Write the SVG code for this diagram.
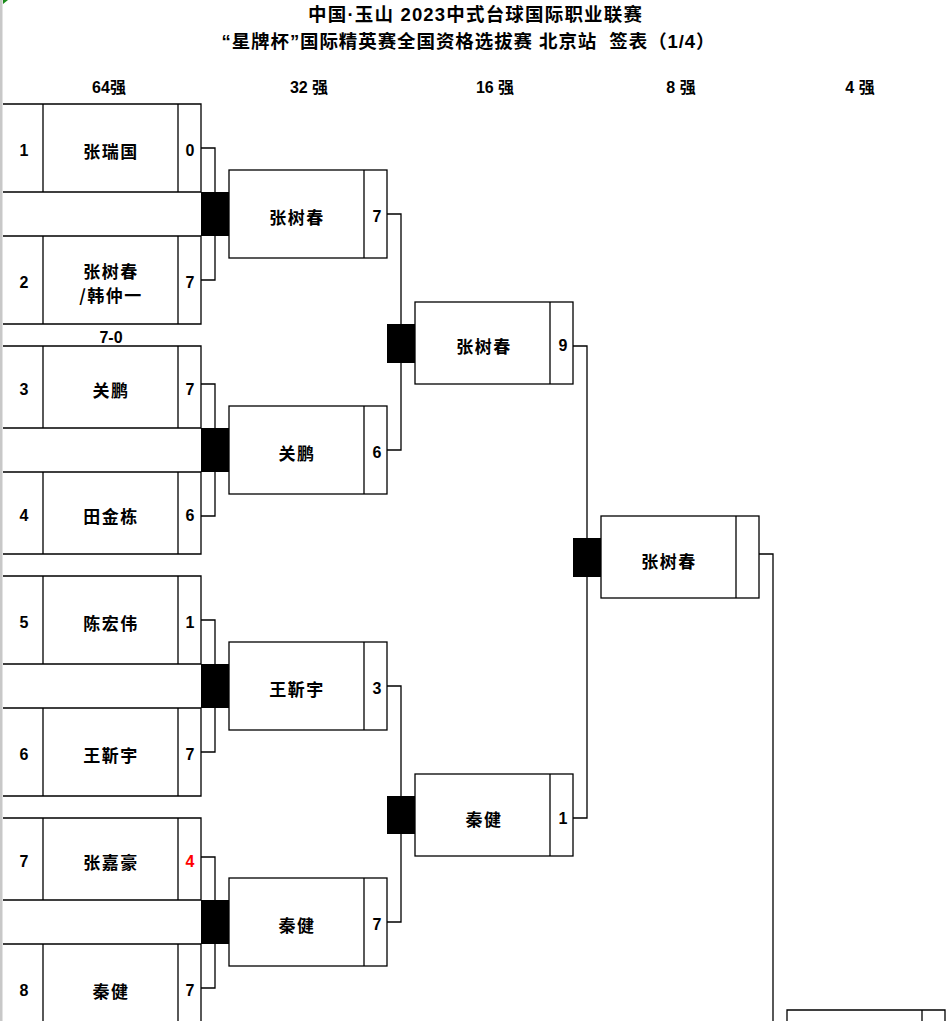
<svg xmlns="http://www.w3.org/2000/svg" width="950" height="1021" viewBox="0 0 950 1021">
<style>
.ln{fill:none;stroke:#000;stroke-width:1.3}
.blk{fill:#000}
.nm{font-family:"Noto Sans CJK SC","Noto Sans",sans-serif;font-weight:bold;font-size:17px;letter-spacing:1.5px;text-anchor:middle;dominant-baseline:central;fill:#000}
.num{font-family:"Liberation Sans",Arial,sans-serif;font-weight:bold;font-size:16px;text-anchor:middle;dominant-baseline:central;fill:#000}
.hd{font-family:"Liberation Sans","Noto Sans CJK SC",sans-serif;font-weight:bold;font-size:16px;text-anchor:middle;dominant-baseline:central;fill:#000}
.tt{font-family:"Liberation Sans","Noto Sans CJK SC",sans-serif;font-weight:bold;font-size:18.5px;text-anchor:middle;dominant-baseline:central;fill:#000}
</style>
<rect x="0" y="0" width="950" height="1021" fill="#fff"/>
<rect x="0" y="0" width="2.5" height="1021" fill="#c8c8c8"/>
<polygon points="3,0 8,0 3,4" fill="#1a8a1a"/>

<g id="title">
<text class="tt" x="475" y="14" textLength="334">中国·玉山 2023中式台球国际职业联赛</text>
<text class="tt" x="468" y="41" textLength="493" xml:space="preserve">“星牌杯”国际精英赛全国资格选拔赛 北京站  签表（1/4）</text>
</g>
<g id="headers">
<text class="hd" x="109" y="87">64强</text>
<text class="hd" x="309" y="87">32 强</text>
<text class="hd" x="495" y="87">16 强</text>
<text class="hd" x="681" y="87">8 强</text>
<text class="hd" x="860" y="87">4 强</text>
</g>

<g id="connectors">
<path class="ln" d="M201,148H215V280H201"/>
<path class="ln" d="M201,384H215V516H201"/>
<path class="ln" d="M201,620H215V752H201"/>
<path class="ln" d="M201,857H215V988H201"/>
<path class="ln" d="M387,214H401V450H387"/>
<path class="ln" d="M387,686H401V922H387"/>
<path class="ln" d="M573,346H587V818H573"/>
<path class="ln" d="M759,554H773V1021"/>
</g>

<g id="blocks">
<rect class="blk" x="201" y="192" width="28" height="44"/>
<rect class="blk" x="201" y="428" width="28" height="44"/>
<rect class="blk" x="201" y="664" width="28" height="44"/>
<rect class="blk" x="201" y="900" width="28" height="44"/>
<rect class="blk" x="387" y="324" width="28" height="39"/>
<rect class="blk" x="387" y="796" width="28" height="38"/>
<rect class="blk" x="573" y="538" width="28" height="39"/>
</g>

<g id="r1-1">
<path class="ln" d="M3,104H201V192H3M43,104V192M178,104V192"/>
<text class="num" x="24" y="150">1</text>
<text class="nm" x="111" y="150">张瑞国</text>
<text class="num" x="190" y="150">0</text>
</g>
<g id="r1-2">
<path class="ln" d="M3,236H201V324H3M43,236V324M178,236V324"/>
<text class="num" x="24" y="282">2</text>
<text class="nm" x="111" y="270">张树春</text>
<text class="nm" x="111" y="294">/韩仲一</text>
<text class="num" x="190" y="282">7</text>
</g>
<g id="note">
<text class="num" x="111" y="337">7-0</text>
</g>
<g id="r1-3">
<path class="ln" d="M3,346H201V428H3M43,346V428M178,346V428"/>
<text class="num" x="24" y="389">3</text>
<text class="nm" x="111" y="389">关鹏</text>
<text class="num" x="190" y="389">7</text>
</g>
<g id="r1-4">
<path class="ln" d="M3,472H201V554H3M43,472V554M178,472V554"/>
<text class="num" x="24" y="515">4</text>
<text class="nm" x="111" y="515">田金栋</text>
<text class="num" x="190" y="515">6</text>
</g>
<g id="r1-5">
<path class="ln" d="M3,576H201V664H3M43,576V664M178,576V664"/>
<text class="num" x="24" y="622">5</text>
<text class="nm" x="111" y="622">陈宏伟</text>
<text class="num" x="190" y="622">1</text>
</g>
<g id="r1-6">
<path class="ln" d="M3,708H201V796H3M43,708V796M178,708V796"/>
<text class="num" x="24" y="754">6</text>
<text class="nm" x="111" y="754">王靳宇</text>
<text class="num" x="190" y="754">7</text>
</g>
<g id="r1-7">
<path class="ln" d="M3,818H201V900H3M43,818V900M178,818V900"/>
<text class="num" x="24" y="861">7</text>
<text class="nm" x="111" y="861">张嘉豪</text>
<text class="num" x="190" y="861" style="fill:#ff0000">4</text>
</g>
<g id="r1-8">
<path class="ln" d="M3,944H201V1025M43,944V1025M178,944V1025"/>
<text class="num" x="24" y="990">8</text>
<text class="nm" x="111" y="990">秦健</text>
<text class="num" x="190" y="990">7</text>
</g>

<g id="r2-1">
<rect class="ln" x="229" y="170" width="158" height="88"/>
<path class="ln" d="M364,170V258"/>
<text class="nm" x="297" y="216">张树春</text>
<text class="num" x="377" y="216">7</text>
</g>
<g id="r2-2">
<rect class="ln" x="229" y="406" width="158" height="88"/>
<path class="ln" d="M364,406V494"/>
<text class="nm" x="297" y="452">关鹏</text>
<text class="num" x="377" y="452">6</text>
</g>
<g id="r2-3">
<rect class="ln" x="229" y="642" width="158" height="88"/>
<path class="ln" d="M364,642V730"/>
<text class="nm" x="297" y="688">王靳宇</text>
<text class="num" x="377" y="688">3</text>
</g>
<g id="r2-4">
<rect class="ln" x="229" y="878" width="158" height="88"/>
<path class="ln" d="M364,878V966"/>
<text class="nm" x="297" y="924">秦健</text>
<text class="num" x="377" y="924">7</text>
</g>

<g id="r3-1">
<rect class="ln" x="415" y="302" width="158" height="82"/>
<path class="ln" d="M550,302V384"/>
<text class="nm" x="484" y="345">张树春</text>
<text class="num" x="563" y="345">9</text>
</g>
<g id="r3-2">
<rect class="ln" x="415" y="774" width="158" height="82"/>
<path class="ln" d="M550,774V856"/>
<text class="nm" x="484" y="818">秦健</text>
<text class="num" x="563" y="818">1</text>
</g>

<g id="r4-1">
<rect class="ln" x="601" y="516" width="158" height="82"/>
<path class="ln" d="M736,516V598"/>
<text class="nm" x="669" y="560">张树春</text>
</g>

<g id="r5-1">
<path class="ln" d="M787,1025V1010H945V1025M922,1010V1025"/>
</g>
</svg>
